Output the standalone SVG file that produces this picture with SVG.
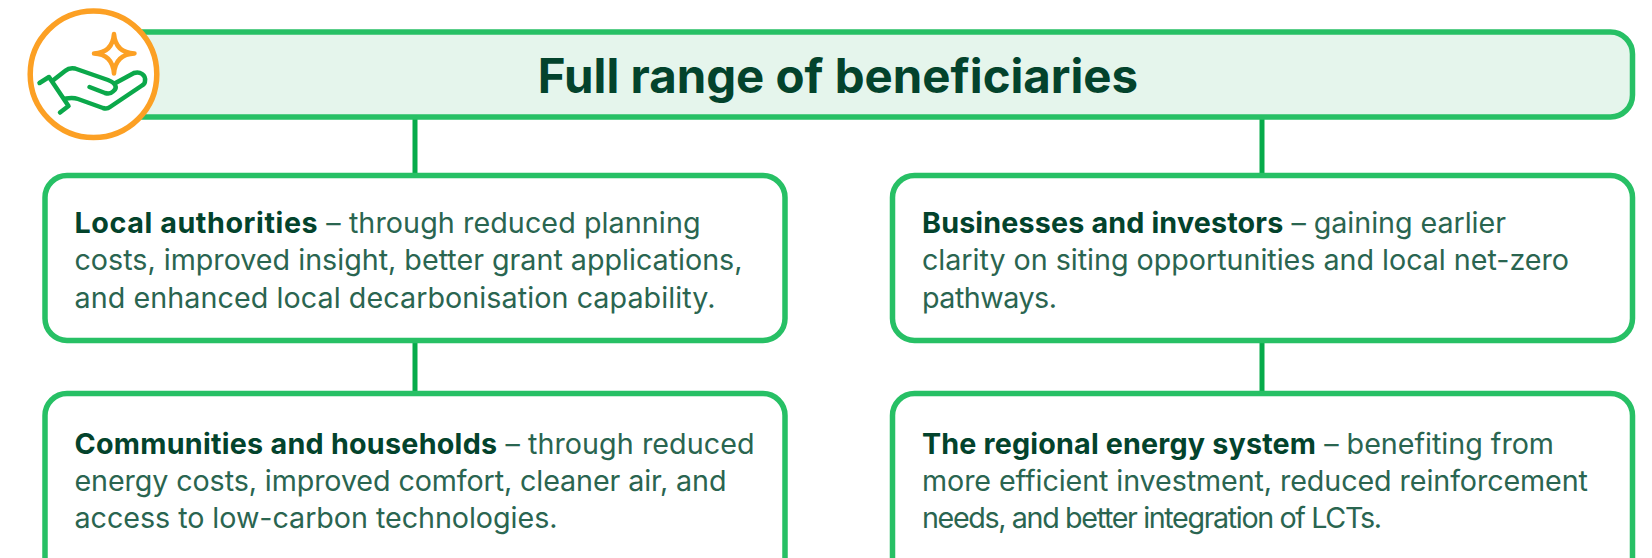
<svg xmlns="http://www.w3.org/2000/svg" width="1652" height="558" viewBox="0 0 1652 558">
<style>
.box{fill:#fff;stroke:#27c065;stroke-width:5.5}
.conn{stroke:#06ab4a;stroke-width:5;fill:none}
text{font-family:"Inter","Noto Sans",sans-serif;font-size:28.7px;fill:#2a6550;font-variant-ligatures:none}
.b{font-weight:700;fill:#03432c;letter-spacing:.2px}
.ic{fill:none;stroke-linecap:round;stroke-linejoin:round;stroke-width:4.5}
</style>
<g id="connectors">
<path class="conn" d="M415 119V173M1262 119V173M415 343V391M1262 343V391"/>
</g>
<g id="header">
<rect x="100" y="32" width="1532.500" height="85" rx="22" fill="#e5f5ec" stroke="#27c065" stroke-width="5.500"/>
<text x="838" y="93" text-anchor="middle" class="b" style="font-size:47.4px;letter-spacing:0">Full range of beneficiaries</text>
</g>
<g id="icon">
<circle cx="93.500" cy="74.300" r="63.300" fill="#fff" stroke="#fca024" stroke-width="5.500"/>
<path class="ic" stroke="#fca024" d="M114 34C115 46 121 53 134.500 53.500C121 54 115 61 114 73.500C113 61 107 54 94 53.500C107 53 113 46 114 34Z"/>
<path class="ic" stroke="#0ba84a" d="M39.500 83L49 77L68.500 106M60 112.500L68.500 106M53.500 80L65 71C68 68.500 71 67.500 75 68.500L108 80C116 83 118 88 113 91.500C111 93.500 108 94 105 93L89.500 87M115.500 83L134 73C140 71 146 75 145 81C145 83 144 84.500 142 85.500L110 107C108 108.500 106 109 103 108L78 99C74 97.500 71 97.500 66 98.500"/>
</g>
<g id="local-authorities">
<rect class="box" x="45" y="175.500" width="740" height="165" rx="22"/>
<text x="74.500" y="232.500" textLength="626"><tspan class="b" style="letter-spacing:.5px">Local authorities</tspan> – through reduced planning</text>
<text x="74.500" y="270" textLength="668">costs, improved insight, better grant applications,</text>
<text x="74.500" y="307.500" textLength="641">and enhanced local decarbonisation capability.</text>
</g>
<g id="businesses-investors">
<rect class="box" x="892.500" y="175.500" width="740" height="165" rx="22"/>
<text x="922" y="232.500" textLength="584"><tspan class="b">Businesses and investors</tspan> – gaining earlier</text>
<text x="922" y="270" textLength="647">clarity on siting opportunities and local net-zero</text>
<text x="922" y="307.500" textLength="135">pathways.</text>
</g>
<g id="communities-households">
<rect class="box" x="45" y="393.500" width="740" height="190" rx="22"/>
<text x="74.500" y="454" textLength="680"><tspan class="b">Communities and households</tspan> – through reduced</text>
<text x="74.500" y="491" textLength="652">energy costs, improved comfort, cleaner air, and</text>
<text x="74.500" y="528" textLength="483">access to low-carbon technologies.</text>
</g>
<g id="regional-energy">
<rect class="box" x="892.500" y="393.500" width="740" height="190" rx="22"/>
<text x="922" y="454" textLength="632"><tspan class="b">The regional energy system</tspan> – benefiting from</text>
<text x="922" y="491" textLength="666">more efficient investment, reduced reinforcement</text>
<text x="922" y="528" textLength="460">needs, and better integration of LCTs.</text>
</g>
</svg>
